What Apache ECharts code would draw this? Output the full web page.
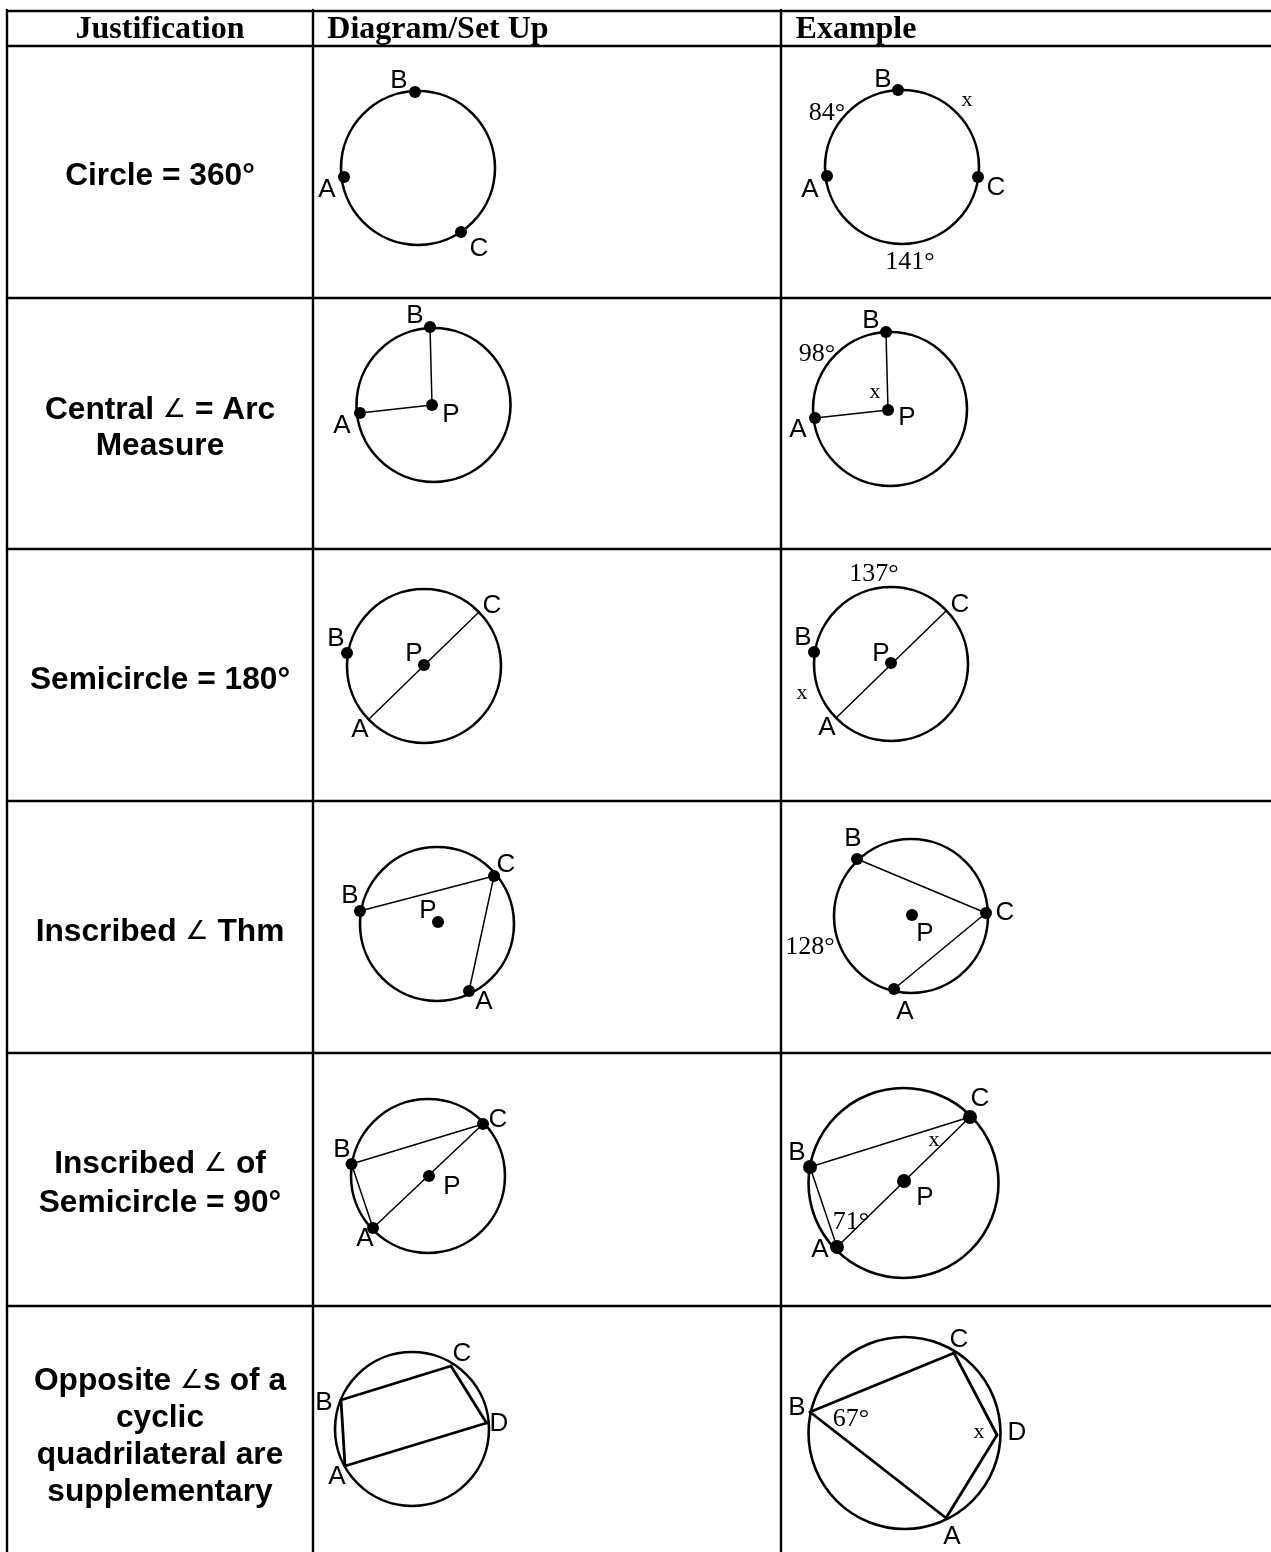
<!DOCTYPE html>
<html><head><meta charset="utf-8">
<style>html,body{margin:0;padding:0;background:#fff}#c{width:1271px;height:1552px}</style>
<script src="https://cdn.jsdelivr.net/npm/echarts@6/dist/echarts.min.js"></script>
</head><body><div id="c"></div>
<script>
// Everything below is in the chart's data space (0..1271 by 0..1552).
const tableRules = [
  [7,11,1271,11],[7,46,1271,46],[7,298,1271,298],[7,549,1271,549],[7,801,1271,801],[7,1053,1271,1053],[7,1306,1271,1306],
  [7,10,7,1552],[313,10,313,1552],[781,10,781,1552]
];
const circles = [
  [418,168,77],[902,167,77],
  [433.5,405,77],[890,409,77],
  [424,666,77],[891,664,77],
  [437,924,77],[911,916,77],
  [428,1176,77],[903.5,1183,95],
  [412,1429,77],[904.5,1433,96]
];
const thinChords = [
  [432,405,430,327],[432,405,360,413],
  [888,410,886,332],[888,410,815,418],
  [369,719,479,612],[836,718,946,611],
  [360,911,494,876],[494,876,469,991],
  [857,859,986,913],[986,913,894,989],
  [351.5,1164,483,1124],[483,1124,373,1228],[351.5,1164,373,1228],
  [810,1167,970,1117],[970,1117,837,1247],[810,1167,837,1247]
];
const thickChords = [
  [341,1400,451,1366],[451,1366,486.5,1423],[486.5,1423,345,1466],[345,1466,341,1400],
  [810,1412,954,1353],[954,1353,997,1435],[997,1435,946,1518],[946,1518,810,1412]
];
const dots = [
  [415,92],[344,177],[461,232],[898,90],[827,176],[978,177],
  [430,327],[360,413],[432,405],[886,332],[815,418],[888,410],
  [347,653],[424,665],[814,652],[891,663],
  [360,911],[494,876],[469,991],[438,922],[857,859],[986,913],[894,989],[912,915],
  [351.5,1164],[483,1124],[373,1228],[429,1176]
];
const largeDots = [[970,1117],[810,1167],[837,1247],[904,1181]];
const headers = [[160,30,'Justification'],[438,30,'Diagram/Set Up'],[856,30,'Example']];
const justifications = [
  [160,176,'Circle = 360°'],
  [160,410,'Central ∠ = Arc'],[160,446,'Measure'],
  [160,680,'Semicircle = 180°'],
  [160,932,'Inscribed ∠ Thm'],
  [160,1164,'Inscribed ∠ of'],[160,1203,'Semicircle = 90°'],
  [160,1381,'Opposite ∠s of a'],[160,1418,'cyclic'],[160,1455,'quadrilateral are'],[160,1492,'supplementary']
];
const pointLetters = [
  [399,81,'B'],[327,190,'A'],[479,249,'C'],[883,80,'B'],[810,190,'A'],[996,188,'C'],
  [415,316,'B'],[342,426,'A'],[451,415,'P'],[871,321,'B'],[798,430,'A'],[907,418,'P'],
  [492,606,'C'],[336,639,'B'],[414,654,'P'],[360,730,'A'],[960,605,'C'],[803,638,'B'],[881,654,'P'],[827,728,'A'],
  [506,865,'C'],[350,896,'B'],[428,911,'P'],[484,1002,'A'],[853,839,'B'],[1005,913,'C'],[925,934,'P'],[905,1012,'A'],
  [498,1120,'C'],[342,1150,'B'],[452,1187,'P'],[365,1239,'A'],[980,1099,'C'],[797,1153,'B'],[925,1198,'P'],[820,1250,'A'],
  [462,1354,'C'],[324,1403,'B'],[499,1424,'D'],[337,1477,'A'],[959,1340,'C'],[797,1408,'B'],[1017,1433,'D'],[952,1537,'A']
];
const angleNotes = [
  [827,113,'84°'],[910,262,'141°'],
  [817,354,'98°'],
  [874,574,'137°'],
  [810,947,'128°'],
  [851,1222,'71°'],
  [851,1419,'67°']
];
const unknowns = [[967,100,'x'],[875,392,'x'],[802,693,'x'],[934,1140,'x'],[979,1432,'x']];

function segmentSeries(name, data, width){
  return {type:'custom',name,coordinateSystem:'cartesian2d',silent:true,data,
    encode:{x:[0,2],y:[1,3]},
    renderItem:(p,api)=>{
      const a=api.coord([api.value(0),api.value(1)]),b=api.coord([api.value(2),api.value(3)]);
      return {type:'line',shape:{x1:a[0],y1:a[1],x2:b[0],y2:b[1]},style:{stroke:'#000',lineWidth:width,fill:null,lineCap:'round'}};
    }};
}
function textSeries(name, data, family, size, weight){
  return {type:'custom',name,coordinateSystem:'cartesian2d',silent:true,data,z:5,
    encode:{x:0,y:1},
    renderItem:(p,api)=>{
      const a=api.coord([api.value(0),api.value(1)]);
      const s=String(api.value(2));
      return {type:'text',x:a[0],y:a[1],style:{text:s.replace('∠','{ang|∠}'),fill:'#000',align:'center',verticalAlign:'middle',
        fontFamily:family,fontSize:size,fontWeight:weight,
        rich:{ang:{fontFamily:'"DejaVu Sans"',fontSize:26,fontWeight:'normal',fill:'#000'}}}};
    }};
}
const chart=echarts.init(document.getElementById('c'),null,{renderer:'canvas'});
chart.setOption({
  animation:false,backgroundColor:'#fff',
  grid:{left:0,right:0,top:0,bottom:0},
  xAxis:{type:'value',min:0,max:1271,show:false},
  yAxis:{type:'value',min:0,max:1552,inverse:true,show:false},
  series:[
    segmentSeries('table',tableRules,2.4),
    {type:'custom',name:'circles',coordinateSystem:'cartesian2d',silent:true,data:circles,encode:{x:0,y:1},
      renderItem:(p,api)=>{
        const c=api.coord([api.value(0),api.value(1)]),r=api.size([api.value(2),0])[0];
        return {type:'circle',shape:{cx:c[0],cy:c[1],r},style:{stroke:'#000',lineWidth:2.6,fill:null}};
      }},
    segmentSeries('thin chords',thinChords,1.5),
    segmentSeries('thick chords',thickChords,2.8),
    {type:'scatter',name:'dots',silent:true,data:dots,symbol:'circle',symbolSize:12,itemStyle:{color:'#000',opacity:1},z:3},
    {type:'scatter',name:'large dots',silent:true,data:largeDots,symbol:'circle',symbolSize:14,itemStyle:{color:'#000',opacity:1},z:3},
    textSeries('headers',headers,'"Liberation Serif"',32,'bold'),
    textSeries('justifications',justifications,'"Liberation Sans"',31.7,'bold'),
    textSeries('points',pointLetters,'"Liberation Sans"',26,'normal'),
    textSeries('notes',angleNotes,'"Liberation Serif"',26,'normal'),
    textSeries('unknowns',unknowns,'"Liberation Serif"',22,'normal')
  ]
});
</script></body></html>
